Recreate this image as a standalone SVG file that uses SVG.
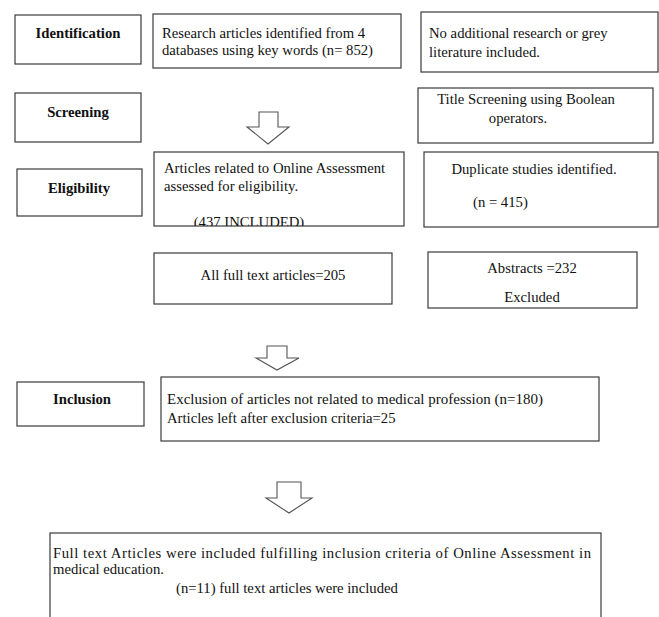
<svg xmlns="http://www.w3.org/2000/svg" width="659" height="617" viewBox="0 0 659 617">
<style>
rect.box{fill:#fff;stroke:#3a3a3a;stroke-width:1.2}
text{font-family:'Liberation Serif','Times New Roman',Times,serif;font-size:14.7px;fill:#111}
text.lab{font-weight:bold;text-anchor:middle}
text.c{text-anchor:middle}
.arrow{fill:#fff;stroke:#555;stroke-width:1.1}
</style>
<defs>
<clipPath id="clipA"><rect x="154" y="152" width="250" height="74"/></clipPath>
</defs>
<rect width="659" height="617" fill="#fff"/>
<g id="connectors">
<path class="arrow" d="M259,112 H278 V127 H289 L268,144 L247,127 H259 Z"/>
<path class="arrow" d="M267,346 H287 V358 H299 L277,370 L256,358 H267 Z"/>
<path class="arrow" d="M277,482 H301 V498 H312 L289,513 L266,498 H277 Z"/>
</g>
<g id="identification">
<rect class="box" x="15" y="15" width="126" height="49"/>
<text class="lab" x="78" y="38">Identification</text>
</g>
<g id="research">
<rect class="box" x="153" y="14" width="248" height="54"/>
<text x="162" y="38">Research articles identified from 4</text>
<text x="162" y="55">databases using key words (n= 852)</text>
</g>
<g id="noadditional">
<rect class="box" x="421" y="12" width="237" height="60"/>
<text x="429" y="38">No additional research or grey</text>
<text x="429" y="57">literature included.</text>
</g>
<g id="screening">
<rect class="box" x="15" y="93" width="126" height="49"/>
<text class="lab" x="78" y="117">Screening</text>
</g>
<g id="titlescreening">
<rect class="box" x="418" y="88" width="235" height="55"/>
<text class="c" x="526" y="104">Title Screening using Boolean</text>
<text class="c" x="518" y="123">operators.</text>
</g>
<g id="eligibility">
<rect class="box" x="17" y="169" width="125" height="47"/>
<text class="lab" x="79" y="193">Eligibility</text>
</g>
<g id="articlesrelated">
<rect class="box" x="154" y="152" width="250" height="74"/>
<text x="164" y="173">Articles related to Online Assessment</text>
<text x="164" y="191">assessed for eligibility.</text>
<text class="c" x="249" y="227" clip-path="url(#clipA)">(437 INCLUDED)</text>
</g>
<g id="duplicate">
<rect class="box" x="424" y="152" width="234" height="75"/>
<text class="c" x="534" y="174">Duplicate studies identified.</text>
<text x="473" y="207">(n = 415)</text>
</g>
<g id="fulltext">
<rect class="box" x="154" y="253" width="238" height="51"/>
<text class="c" x="273" y="280">All full text articles=205</text>
</g>
<g id="abstracts">
<rect class="box" x="428" y="252" width="209" height="56"/>
<text class="c" x="532" y="273">Abstracts =232</text>
<text class="c" x="532" y="302">Excluded</text>
</g>
<g id="inclusion">
<rect class="box" x="17" y="382" width="127" height="44"/>
<text class="lab" x="82" y="404">Inclusion</text>
</g>
<g id="exclusion">
<rect class="box" x="161" y="377" width="438" height="64"/>
<text x="167" y="404" textLength="376" lengthAdjust="spacingAndGlyphs">Exclusion of articles not related to medical profession (n=180)</text>
<text x="167" y="423">Articles left after exclusion criteria=25</text>
</g>
<g id="final">
<rect class="box" x="50" y="533" width="551" height="95"/>
<text x="53" y="558" textLength="538" lengthAdjust="spacing">Full text Articles were included fulfilling inclusion criteria of Online Assessment in</text>
<text x="53" y="574">medical education.</text>
<text x="176" y="593">(n=11) full text articles were included</text>
</g>
</svg>
